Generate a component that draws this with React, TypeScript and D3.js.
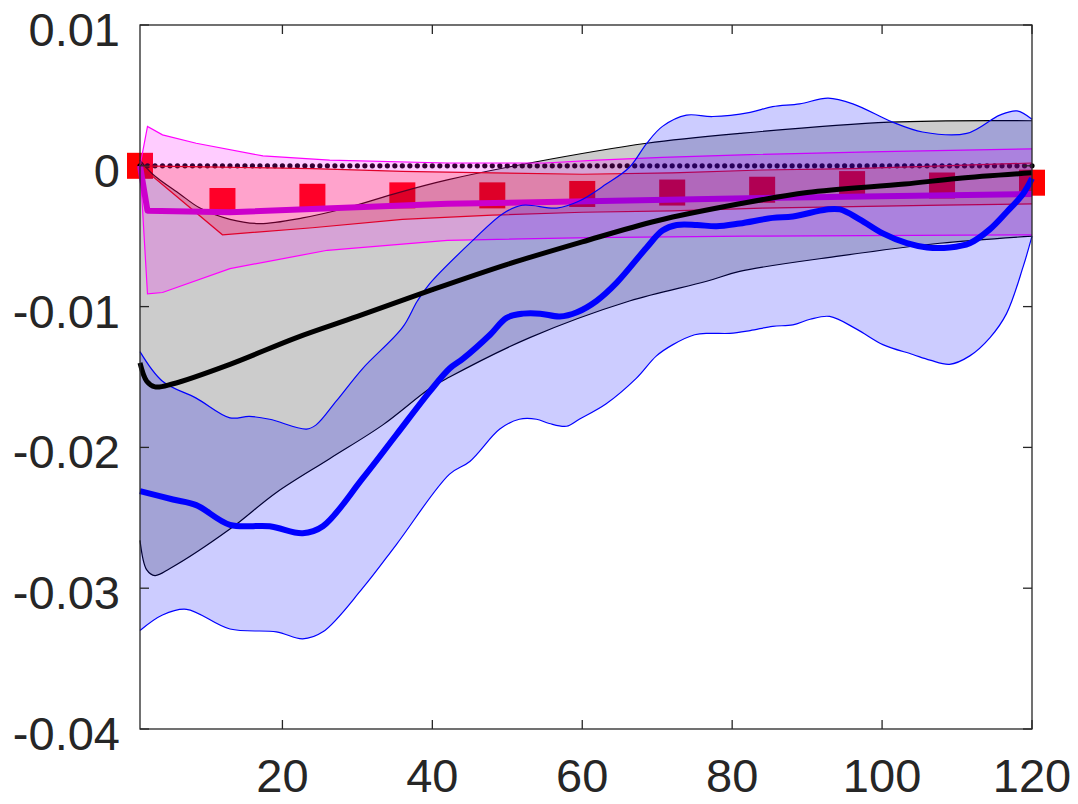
import React from "react";
import * as d3 from "d3";

// ---------- data ----------
const xTicks = [20, 40, 60, 80, 100, 120];
const yTicks = [0.01, 0, -0.01, -0.02, -0.03, -0.04];
const yTickLabels = ["0.01", "0", "-0.01", "-0.02", "-0.03", "-0.04"];

// black / gray series
const blackMedX = [1, 1.9, 3, 5.3, 13, 21.9, 30, 40, 50, 60, 70, 81, 90, 103, 110, 120];
const blackMedY = [-0.014, -0.0153, -0.0157, -0.0155, -0.0141, -0.0122, -0.0107, -0.0088, -0.007, -0.0054, -0.0039, -0.0027, -0.0019, -0.0013, -0.0009, -0.0005];
const grayUpX = [1, 2.7, 6.3, 9, 13, 17, 22.7, 28.5, 35.5, 42, 53, 68.6, 81, 101, 120];
const grayUpY = [0.0004, -0.0006, -0.002, -0.003, -0.0038, -0.0041, -0.0037, -0.003, -0.0019, -0.001, 0.0002, 0.0016, 0.0023, 0.0031, 0.0032];
const grayLoX = [1, 1.9, 3, 5, 13, 19.2, 26.3, 33.4, 39.7, 42.3, 53, 66.3, 76.6, 81, 94.4, 107.7, 120];
const grayLoY = [-0.0266, -0.0287, -0.0291, -0.0286, -0.0258, -0.0232, -0.0208, -0.0184, -0.0158, -0.015, -0.0122, -0.0096, -0.0082, -0.0075, -0.0064, -0.0055, -0.005];

// blue series
const blueMedX = [1, 5.4, 8.5, 13, 18.3, 22.7, 25.4, 30.7, 35.2, 39.7, 42.3, 44.1, 47.7, 49.9, 52.1, 54.4, 57, 59.3, 61.9, 64.6, 68.6, 70.7, 72.6, 75.3, 77.9, 81, 85.4, 88.1, 92.6, 94.4, 97, 100.1, 103.3, 106, 109, 111.7, 114.4, 116.6, 118.8, 120];
const blueMedY = [-0.0231, -0.0237, -0.0241, -0.0255, -0.0256, -0.0261, -0.0256, -0.0222, -0.0191, -0.016, -0.0144, -0.0137, -0.012, -0.0108, -0.0105, -0.0105, -0.0107, -0.0104, -0.0096, -0.0083, -0.0058, -0.0046, -0.0042, -0.0042, -0.0043, -0.0041, -0.0037, -0.0036, -0.0031, -0.0031, -0.0038, -0.0048, -0.0055, -0.0058, -0.0058, -0.0055, -0.0045, -0.0033, -0.002, -0.0009];
const blueUpX = [1, 4, 8.5, 13, 15.6, 18.3, 23.2, 24.5, 27.2, 30.7, 36, 38, 39.6, 45.4, 49.4, 52, 56.6, 59.6, 63.2, 66.3, 68.6, 70.7, 73.9, 77.4, 82.4, 85.4, 89, 92.8, 96.1, 101.4, 105.4, 111.3, 115.7, 118, 120];
const blueUpY = [-0.0132, -0.0153, -0.0165, -0.0179, -0.0178, -0.018, -0.0187, -0.0184, -0.0167, -0.0144, -0.0115, -0.0096, -0.0084, -0.0053, -0.0034, -0.0028, -0.003, -0.0025, -0.0013, -0.0001, 0.0016, 0.0028, 0.0036, 0.0035, 0.0038, 0.0042, 0.0044, 0.0048, 0.0044, 0.0031, 0.0024, 0.0023, 0.0036, 0.0039, 0.0033];
const blueLoX = [1, 4, 7.2, 13, 19.2, 22.7, 25.4, 30.7, 35.2, 42.3, 45, 49, 51.6, 53.9, 55.6, 57.9, 59.6, 63.2, 67.2, 69.9, 72.1, 75, 77, 79.7, 82.4, 85.4, 88.1, 90.4, 93, 96.6, 100.1, 104.1, 106.4, 109, 111.7, 114.4, 116.6, 118.8, 120];
const blueLoY = [-0.033, -0.0319, -0.0315, -0.0329, -0.0331, -0.0336, -0.0331, -0.03, -0.0269, -0.0219, -0.021, -0.0187, -0.018, -0.018, -0.0183, -0.0185, -0.018, -0.0169, -0.0151, -0.0135, -0.0127, -0.012, -0.0119, -0.0119, -0.0117, -0.0114, -0.0113, -0.0109, -0.0107, -0.0116, -0.0127, -0.0134, -0.0138, -0.0141, -0.0135, -0.0122, -0.0105, -0.0072, -0.005];

// magenta series
const magMedX = [1, 2, 13, 42, 82, 120];
const magMedY = [0, -0.0032, -0.0033, -0.0027, -0.0023, -0.002];
const magUpX = [1, 2, 4, 8.5, 17.4, 26.3, 42, 55, 62, 70.7, 82.4, 100, 120];
const magUpY = [0, 0.0028, 0.0022, 0.0016, 0.0007, 0.0004, 0.0002, 0.0002, 0.0004, 0.0006, 0.0008, 0.001, 0.0012];
const magLoX = [1, 2, 4, 13, 26, 42, 61, 82, 120];
const magLoY = [0, -0.0091, -0.009, -0.0073, -0.006, -0.0053, -0.0051, -0.005, -0.0049];

// red series (markers and band)
const redX = [1, 12, 24, 36, 48, 60, 72, 84, 96, 108, 120];
const redMarkY = [0, -0.0025, -0.0022, -0.0021, -0.0021, -0.002, -0.0019, -0.0017, -0.0013, -0.0014, -0.0012];
const redUpY = [0, -0.0001, -0.0002, -0.0004, -0.0005, -0.0006, -0.0005, -0.0003, -0.0002, 0, 0.0002];
const redLoY = [0, -0.0049, -0.0044, -0.0038, -0.0035, -0.0033, -0.0032, -0.003, -0.0029, -0.0028, -0.0027];

// zero reference (dotted)
const zeroX = d3.range(1, 121);
const zeroY = zeroX.map(() => 0);

// ---------- layout ----------
const W = 1078;
const H = 804;
const L = 140;
const R = 1032;
const T = 25;
const B = 729;
const TXT = "#262626";
const FONT = "'Liberation Sans', Arial, Helvetica, sans-serif";

const xs = d3.scaleLinear().domain([1, 120]).range([L, R]);
const ys = d3.scaleLinear().domain([-0.04, 0.01]).range([B, T]);

type P = [number, number];
const zip = (a: number[], b: number[]): P[] => a.map((v, i) => [v, b[i]]);

const lineLin = d3.line<P>().x((d) => xs(d[0])).y((d) => ys(d[1]));
const lineSmooth = d3
  .line<P>()
  .x((d) => xs(d[0]))
  .y((d) => ys(d[1]))
  .curve(d3.curveCatmullRom.alpha(0.5));

function bandPath(up: P[], lo: P[], smooth: boolean): string {
  const g = smooth ? lineSmooth : lineLin;
  const a = g(up) || "";
  const b = (g([...lo].reverse()) || "").replace(/^M/, "L");
  return a + b + "Z";
}

function Band(props: { up: P[]; lo: P[]; color: string; edge: string; smooth: boolean }) {
  const { up, lo, color, edge, smooth } = props;
  const g = smooth ? lineSmooth : lineLin;
  return (
    <g>
      <path d={bandPath(up, lo, smooth)} fill={color} fillOpacity={0.2} stroke="none" />
      <path d={g(up) || ""} fill="none" stroke={edge} strokeWidth={1.2} />
      <path d={g(lo) || ""} fill="none" stroke={edge} strokeWidth={1.2} />
    </g>
  );
}

export default function App() {
  const sq = 26;
  return (
    <svg
      width={W}
      height={H}
      viewBox={`0 0 ${W} ${H}`}
      style={{ position: "absolute", left: 0, top: 0, background: "#fff" }}
    >
      <rect x={0} y={0} width={W} height={H} fill="#fff" />
      {/* red square markers */}
      {redX.map((x, i) => (
        <rect
          key={"sq" + i}
          x={xs(x) - sq / 2}
          y={ys(redMarkY[i]) - sq / 2}
          width={sq}
          height={sq}
          fill="#ff0000"
        />
      ))}
      {/* dotted zero line */}
      {zeroX.map((x, i) => (
        <circle key={"z" + i} cx={xs(x)} cy={ys(zeroY[i])} r={2.6} fill="#000" />
      ))}
      {/* gray band */}
      <Band up={zip(grayUpX, grayUpY)} lo={zip(grayLoX, grayLoY)} color="#000000" edge="#000000" smooth={true} />
      {/* magenta band */}
      <Band up={zip(magUpX, magUpY)} lo={zip(magLoX, magLoY)} color="#ff00ff" edge="#ff00ff" smooth={false} />
      {/* red band */}
      <Band up={zip(redX, redUpY)} lo={zip(redX, redLoY)} color="#ff0000" edge="#e0002a" smooth={false} />
      {/* magenta median */}
      <path
        d={lineLin(zip(magMedX, magMedY)) || ""}
        fill="none"
        stroke="#cc00cc"
        strokeWidth={6}
        strokeLinejoin="round"
      />
      {/* blue band */}
      <Band up={zip(blueUpX, blueUpY)} lo={zip(blueLoX, blueLoY)} color="#0000ff" edge="#0000ff" smooth={true} />
      {/* black median */}
      <path
        d={lineSmooth(zip(blackMedX, blackMedY)) || ""}
        fill="none"
        stroke="#000"
        strokeWidth={5}
        strokeLinejoin="round"
      />
      {/* blue median */}
      <path
        d={lineSmooth(zip(blueMedX, blueMedY)) || ""}
        fill="none"
        stroke="#0000ff"
        strokeWidth={6}
        strokeLinejoin="round"
      />
      {/* axes box */}
      <rect x={L} y={T} width={R - L} height={B - T} fill="none" stroke={TXT} strokeWidth={1.3} />
      {/* ticks */}
      {xTicks.map((t) => (
        <g key={"xt" + t}>
          <line x1={xs(t)} x2={xs(t)} y1={B} y2={B - 9} stroke={TXT} strokeWidth={1.3} />
          <line x1={xs(t)} x2={xs(t)} y1={T} y2={T + 9} stroke={TXT} strokeWidth={1.3} />
          <text
            x={xs(t)}
            y={B + 63}
            textAnchor="middle"
            fontFamily={FONT}
            fontSize={47}
            fill={TXT}
          >
            {t}
          </text>
        </g>
      ))}
      {yTicks.map((t, i) => (
        <g key={"yt" + i}>
          <line x1={L} x2={L + 9} y1={ys(t)} y2={ys(t)} stroke={TXT} strokeWidth={1.3} />
          <line x1={R} x2={R - 9} y1={ys(t)} y2={ys(t)} stroke={TXT} strokeWidth={1.3} />
          <text
            x={120}
            y={ys(t) + 21}
            textAnchor="end"
            fontFamily={FONT}
            fontSize={47}
            fill={TXT}
          >
            {yTickLabels[i]}
          </text>
        </g>
      ))}
    </svg>
  );
}
